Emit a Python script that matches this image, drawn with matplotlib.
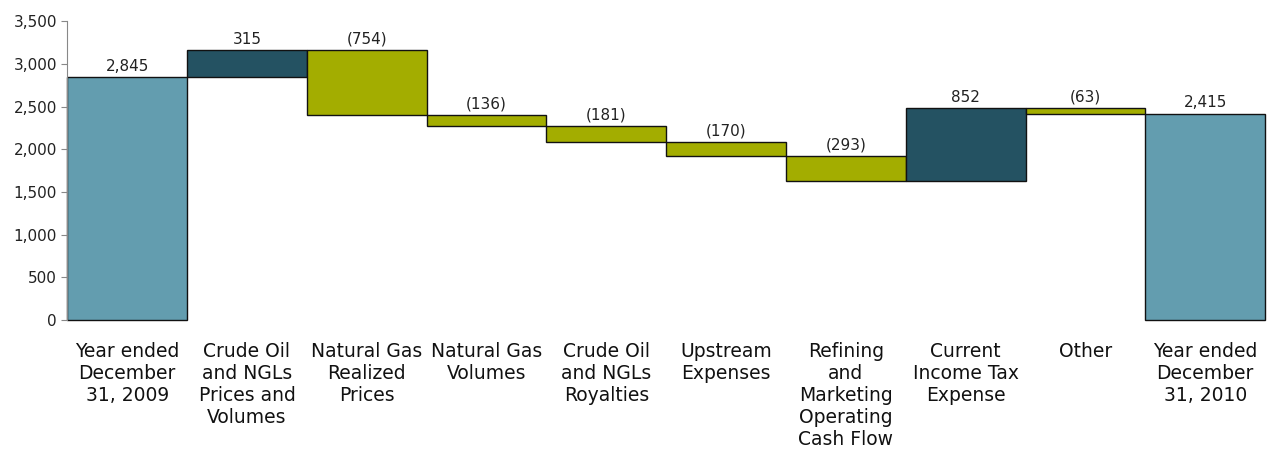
import numpy as np
import matplotlib.pyplot as plt

# waterfall data (millions)
categories = ["Year ended\nDecember\n31, 2009", "Crude Oil\nand NGLs\nPrices and\nVolumes",
              "Natural Gas\nRealized\nPrices", "Natural Gas\nVolumes", "Crude Oil\nand NGLs\nRoyalties",
              "Upstream\nExpenses", "Refining\nand\nMarketing\nOperating\nCash Flow",
              "Current\nIncome Tax\nExpense", "Other", "Year ended\nDecember\n31, 2010"]
changes = [2845, 315, -754, -136, -181, -170, -293, 852, -63, 2415]
is_total = [True, False, False, False, False, False, False, False, False, True]
value_labels = ["2,845", "315", "(754)", "(136)", "(181)", "(170)", "(293)", "852", "(63)", "2,415"]

c_total = "#639DAF"
c_up = "#245262"
c_down = "#A3AD00"

fig = plt.figure(figsize=(12.69, 4.5), dpi=100)
ax = fig.add_axes([0.053, 0.289, 0.944, 0.664])

running = 0
for i, (v, tot) in enumerate(zip(changes, is_total)):
    if tot:
        bottom, height, col = 0, v, c_total
        running = v
    else:
        bottom = running if v > 0 else running + v
        height = abs(v)
        col = c_up if v > 0 else c_down
        running += v
    ax.bar(i, height, bottom=bottom, width=1.0, color=col, edgecolor="#111111",
           linewidth=1, clip_on=False)
    ax.text(i, bottom + height + 40, value_labels[i], ha="center", va="bottom",
            fontsize=11, color="#222222")

ax.set_xlim(-0.5, 9.5)
ax.set_ylim(0, 3500)
ax.set_yticks(np.arange(0, 3501, 500))
ax.set_yticklabels([f"{t:,}" for t in range(0, 3501, 500)], fontsize=11, color="#222222")
ax.set_xticks(range(len(categories)))
ax.set_xticklabels(categories, fontsize=13.5, color="#111111", linespacing=1.2)
ax.tick_params(axis="x", length=0, pad=16)
ax.tick_params(axis="y", length=4, color="#888888")
for s in ["top", "right", "bottom"]:
    ax.spines[s].set_visible(False)
ax.spines["left"].set_color("#888888")

fig.savefig("out.png", dpi=100)
